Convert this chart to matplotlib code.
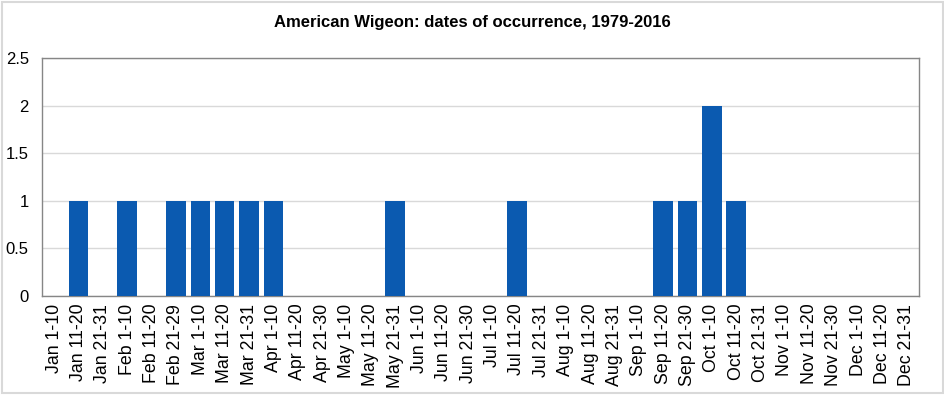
import matplotlib
matplotlib.use("Agg")
import matplotlib.pyplot as plt
from matplotlib.patches import Rectangle

# categories (10-day periods) and counts
periods = ["Jan 1-10", "Jan 11-20", "Jan 21-31", "Feb 1-10", "Feb 11-20", "Feb 21-29",
           "Mar 1-10", "Mar 11-20", "Mar 21-31", "Apr 1-10", "Apr 11-20", "Apr 21-30",
           "May 1-10", "May 11-20", "May 21-31", "Jun 1-10", "Jun 11-20", "Jun 21-30",
           "Jul 1-10", "Jul 11-20", "Jul 21-31", "Aug 1-10", "Aug 11-20", "Aug 21-31",
           "Sep 1-10", "Sep 11-20", "Sep 21-30", "Oct 1-10", "Oct 11-20", "Oct 21-31",
           "Nov 1-10", "Nov 11-20", "Nov 21-30", "Dec 1-10", "Dec 11-20", "Dec 21-31"]
counts = [0, 1, 0, 1, 0, 1,
          1, 1, 1, 1, 0, 0,
          0, 0, 1, 0, 0, 0,
          0, 1, 0, 0, 0, 0,
          0, 1, 1, 2, 1, 0,
          0, 0, 0, 0, 0, 0]
y_ticks = [0, 0.5, 1, 1.5, 2, 2.5]
y_tick_labels = ["0", "0.5", "1", "1.5", "2", "2.5"]

plt.rcParams['font.family'] = ['Liberation Sans', 'DejaVu Sans']

fig = plt.figure(figsize=(9.45, 3.95), dpi=100)
# light grey frame round the whole chart
fig.patches.append(Rectangle((0.002, 0.004), 0.996, 0.992, transform=fig.transFigure,
                             fill=False, edgecolor='#d9d9d9', linewidth=1.5))

ax = fig.add_axes([0.0444, 0.2506, 0.928, 0.6024])
x = range(len(periods))
ax.bar(x, counts, width=0.8, color='#0B5AB0', zorder=3)

ax.set_xlim(-0.5, len(periods) - 0.5)
ax.set_ylim(0, 2.5)
ax.set_yticks(y_ticks)
ax.set_yticklabels(y_tick_labels, fontsize=12)
ax.set_xticks(list(x))
ax.set_xticklabels(periods, rotation=90, fontsize=12.8)
ax.tick_params(axis='y', length=0, pad=9.5)
ax.tick_params(axis='x', length=0, pad=5.5)

ax.grid(axis='y', color='#d9d9d9', linewidth=1, zorder=0)
for s in ax.spines.values():
    s.set_color('#868686')
    s.set_linewidth(1)

fig.text(0.5, 0.942, "American Wigeon: dates of occurrence, 1979-2016",
         ha='center', va='center', fontsize=12, fontweight='bold')

fig.savefig("out.png", dpi=100)
